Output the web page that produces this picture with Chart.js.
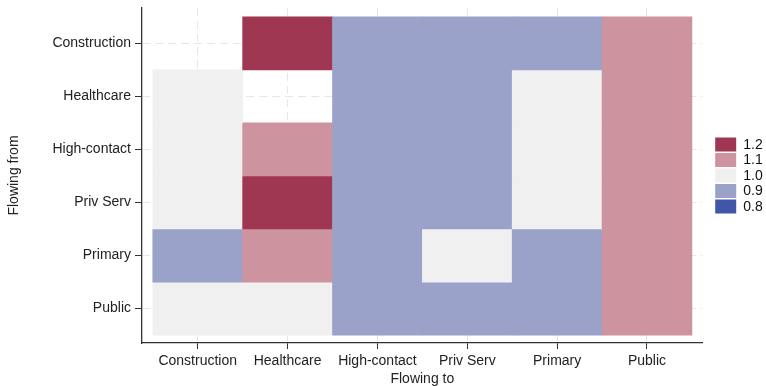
<!DOCTYPE html>
<html>
<head>
<meta charset="utf-8">
<script src="https://cdn.jsdelivr.net/npm/chart.js@4.4.1/dist/chart.umd.min.js"></script>
<style>
  html, body { margin: 0; padding: 0; background: #ffffff; }
  #wrap { width: 766px; height: 386px; }
</style>
</head>
<body>
<div id="wrap"><canvas id="flows" width="766" height="386"></canvas></div>
<script>
// Sectors on each axis
const sectorsTo   = ['Construction', 'Healthcare', 'High-contact', 'Priv Serv', 'Primary', 'Public'];
const sectorsFrom = ['Construction', 'Healthcare', 'High-contact', 'Priv Serv', 'Primary', 'Public'];

// Relative flow ratio per origin sector, one value per destination (null = no flow)
const fromConstruction = [null, 1.2, 0.9, 0.9, 0.9, 1.1];
const fromHealthcare   = [1.0, null, 0.9, 0.9, 1.0, 1.1];
const fromHighContact  = [1.0, 1.1, 0.9, 0.9, 1.0, 1.1];
const fromPrivServ     = [1.0, 1.2, 0.9, 0.9, 1.0, 1.1];
const fromPrimary      = [0.9, 1.1, 0.9, 1.0, 0.9, 1.1];
const fromPublic       = [1.0, 1.0, 0.9, 0.9, 0.9, 1.1];

// Colour key
const keyLevels = [1.2, 1.1, 1.0, 0.9, 0.8];
const keyColors = ['#A03752', '#CD949F', '#F0F0F0', '#9AA2C9', '#4156A6'];

const rows = [fromConstruction, fromHealthcare, fromHighContact, fromPrivServ, fromPrimary, fromPublic];

function colorFor(v) {
  let best = 0, bestDiff = Infinity;
  keyLevels.forEach((lv, i) => {
    const d = Math.abs(lv - v);
    if (d < bestDiff) { bestDiff = d; best = i; }
  });
  return keyColors[best];
}

// Each row is a dataset of floating bars spanning one category band on the y axis
const datasets = rows.map((vals, r) => ({
  label: sectorsFrom[r],
  data: vals
    .map((v, c) => (v === null ? null : { x: c + 1, y: [r + 0.5, r + 1.5], v: v }))
    .filter(p => p !== null),
  backgroundColor: ctx => (ctx.raw ? colorFor(ctx.raw.v) : 'rgba(0,0,0,0)'),
  borderWidth: 0,
  grouped: false,
  barPercentage: 1,
  categoryPercentage: 1
}));

const FONT = '"Liberation Sans", Arial, sans-serif';
Chart.defaults.font.family = FONT;
Chart.defaults.color = '#222';

// Colour key drawn to the right of the plot area
const colorKey = {
  id: 'colorKey',
  afterDraw(chart) {
    const { ctx, chartArea } = chart;
    const bw = 21, bh = 14, pitch = 15.5;
    const total = pitch * (keyLevels.length - 1) + bh;
    const y0 = (chartArea.top + chartArea.bottom) / 2 - total / 2;
    const x0 = chartArea.right + 12.5;
    ctx.save();
    ctx.font = '14px ' + FONT;
    ctx.textBaseline = 'middle';
    ctx.textAlign = 'left';
    keyLevels.forEach((lv, i) => {
      const y = y0 + i * pitch;
      ctx.fillStyle = keyColors[i];
      ctx.fillRect(x0, y, bw, bh);
      ctx.fillStyle = '#111';
      ctx.fillText(lv.toFixed(1), x0 + bw + 7, y + bh / 2 + 0.5);
    });
    ctx.restore();
  }
};

const gridCommon = {
  offset: false,
  color: '#e6e6e6',
  lineWidth: 1,
  tickColor: '#333',
  tickWidth: 1,
  tickBorderDash: []
};
const borderCommon = { display: true, color: '#333', width: 1.3, dash: [8, 5] };

new Chart(document.getElementById('flows'), {
  type: 'bar',
  data: { datasets },
  plugins: [colorKey],
  options: {
    responsive: false,
    animation: false,
    devicePixelRatio: 1,
    layout: { padding: { left: 0, right: 63.3, top: 8, bottom: 0 } },
    plugins: { legend: { display: false }, tooltip: { enabled: false } },
    scales: {
      x: {
        type: 'linear',
        offset: false,
        min: 0.38,
        max: 6.62,
        afterBuildTicks: s => { s.ticks = sectorsTo.map((_, i) => ({ value: i + 1 })); },
        afterFit: s => { s.height = 43; s.paddingLeft = 0; s.paddingRight = 0; },
        ticks: {
          autoSkip: false,
          maxRotation: 0,
          padding: 4,
          color: '#222',
          font: { size: 14 },
          callback: v => sectorsTo[Math.round(v) - 1] || ''
        },
        grid: Object.assign({ tickLength: 6 }, gridCommon),
        border: borderCommon,
        title: {
          display: true,
          text: 'Flowing to',
          color: '#222',
          font: { size: 14, lineHeight: 1 },
          padding: { top: 0, bottom: -0.5 }
        }
      },
      y: {
        type: 'linear',
        offset: false,
        reverse: true,
        min: 0.335,
        max: 6.648,
        afterBuildTicks: s => { s.ticks = sectorsFrom.map((_, i) => ({ value: i + 1 })); },
        afterFit: s => { s.width = 142; s.paddingTop = 0; s.paddingBottom = 0; },
        ticks: {
          autoSkip: false,
          padding: 4,
          color: '#222',
          font: { size: 14 },
          callback: v => sectorsFrom[Math.round(v) - 1] || ''
        },
        grid: Object.assign({ tickLength: 7 }, gridCommon),
        border: borderCommon,
        title: {
          display: true,
          text: 'Flowing from',
          color: '#222',
          font: { size: 14 },
          padding: { top: 6, bottom: 0 }
        }
      }
    }
  }
});
</script>
</body>
</html>
